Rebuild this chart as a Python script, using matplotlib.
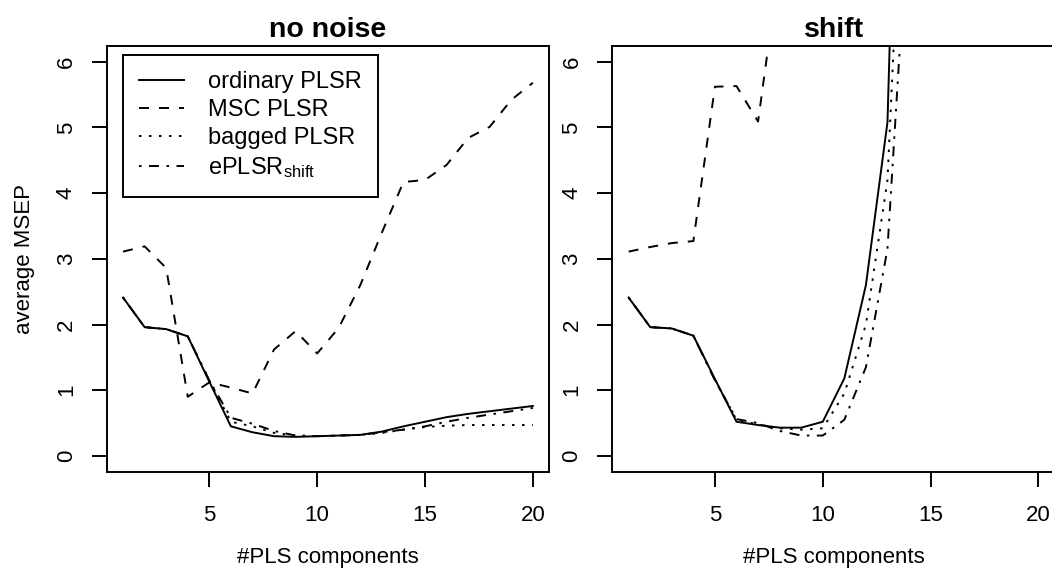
import matplotlib
matplotlib.use("Agg")
import matplotlib.pyplot as plt

plt.rcParams['font.family'] = ['Liberation Sans', 'DejaVu Sans']
plt.rcParams['mathtext.fontset'] = 'custom'
plt.rcParams['mathtext.rm'] = 'Liberation Sans'
plt.rcParams['mathtext.it'] = 'Liberation Sans:italic'
plt.rcParams['lines.scale_dashes'] = False

# number of PLS components
comps = list(range(1, 21))
comps_shift = list(range(1, 15))

# panel "no noise"
ordinary_nn = [2.41, 1.96, 1.93, 1.82, 1.13, 0.45, 0.36, 0.30, 0.29, 0.30,
               0.31, 0.32, 0.37, 0.45, 0.52, 0.59, 0.64, 0.68, 0.72, 0.76]
msc_nn = [3.11, 3.19, 2.86, 0.90, 1.12, 1.04, 0.95, 1.62, 1.90, 1.56,
          1.95, 2.60, 3.40, 4.17, 4.20, 4.43, 4.84, 5.01, 5.42, 5.68]
bagged_nn = [2.41, 1.96, 1.93, 1.82, 1.15, 0.52, 0.45, 0.35, 0.31, 0.30,
             0.31, 0.32, 0.35, 0.40, 0.44, 0.46, 0.47, 0.47, 0.47, 0.47]
eplsr_nn = [2.41, 1.96, 1.93, 1.82, 1.15, 0.58, 0.49, 0.38, 0.31, 0.30,
            0.31, 0.32, 0.36, 0.40, 0.45, 0.52, 0.58, 0.63, 0.68, 0.73]

# panel "shift" (curves leave the plot after ~13 components)
ordinary_sh = [2.41, 1.96, 1.94, 1.83, 1.17, 0.52, 0.47, 0.43, 0.43, 0.52,
               1.18, 2.60, 5.08, 16.5]
msc_sh = [3.11, 3.18, 3.24, 3.27, 5.62, 5.63, 5.09, 7.5]
bagged_sh = [2.41, 1.96, 1.94, 1.83, 1.16, 0.55, 0.48, 0.42, 0.40, 0.42,
             0.95, 2.00, 4.20, 11.3]
eplsr_sh = [2.41, 1.96, 1.94, 1.83, 1.15, 0.56, 0.50, 0.38, 0.31, 0.31,
            0.55, 1.35, 3.15, 8.5]

labels = ['ordinary PLSR', 'MSC PLSR', 'bagged PLSR', r'ePLSR$_{\mathrm{shift}}$']
dash_styles = [None, (0, (7.2, 7.2)), (0, (1.8, 5.4)), (0, (1.8, 5.4, 7.2, 5.4))]
lw = 1.4

fig = plt.figure(figsize=(10.52, 5.7), dpi=100)
ax1 = fig.add_axes([0.1014, 0.1725, 0.4207, 0.7468])
ax2 = fig.add_axes([0.5820, 0.1725, 0.4207, 0.7468])


def draw_panel(ax, x, series, title):
    for i, y in enumerate(series):
        ls = '-' if dash_styles[i] is None else dash_styles[i]
        ax.plot(x[:len(y)], y, color='black', lw=lw, linestyle=ls,
                label=labels[i], solid_joinstyle='miter', dash_capstyle='butt')
    ax.set_xlim(0.24, 20.76)
    ax.set_ylim(-0.24, 6.24)
    ax.set_xticks([5, 10, 15, 20])
    ax.set_yticks([0, 1, 2, 3, 4, 5, 6])
    for s in ax.spines.values():
        s.set_linewidth(lw)
    ax.tick_params(axis='both', direction='out', length=11, width=lw,
                   labelsize=16)
    ax.tick_params(axis='x', pad=13)
    ax.tick_params(axis='y', pad=10.5, labelrotation=90)
    for t in ax.get_yticklabels():
        t.set_va('center')
    ax.set_title(title, fontsize=20.5, fontweight='bold', pad=6.5)
    ax.set_xlabel('#PLS components', fontsize=16)
    ax.xaxis.set_label_coords(0.5, -0.178)


draw_panel(ax1, comps, [ordinary_nn, msc_nn, bagged_nn, eplsr_nn], 'no noise')
draw_panel(ax2, comps_shift, [ordinary_sh, msc_sh, bagged_sh, eplsr_sh], 'shift')

ax1.set_ylabel('average MSEP', fontsize=16)
ax1.yaxis.set_label_coords(-0.162, 0.5)

leg = ax1.legend(loc='upper left', bbox_to_anchor=(0.036, 0.979),
                 borderaxespad=0, fontsize=17, handlelength=1.9,
                 handletextpad=1.0, labelspacing=0.25, borderpad=0.7,
                 fancybox=False, framealpha=1)
leg.get_frame().set_edgecolor('black')
leg.get_frame().set_linewidth(lw)

fig.savefig('out.png', dpi=100)
